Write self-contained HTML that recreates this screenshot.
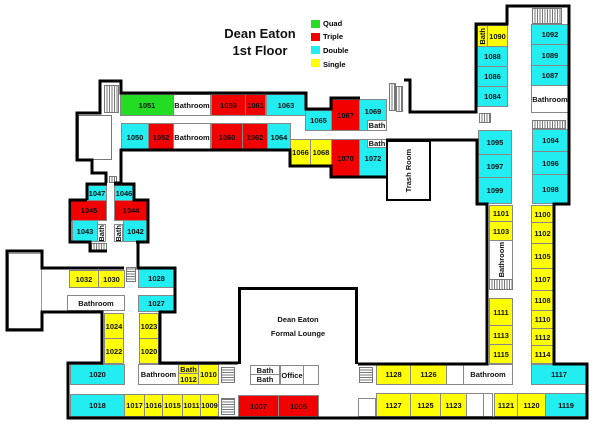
<!DOCTYPE html>
<html><head><meta charset="utf-8"><style>
body{margin:0;width:600px;height:429px;background:#fff;position:relative;overflow:hidden;font-family:"Liberation Sans",sans-serif;}
.r{position:absolute;box-sizing:border-box;border:1px solid #888;font-size:7.5px;font-weight:bold;color:#111;display:flex;align-items:center;justify-content:center;white-space:nowrap;}
.c{background:#22eef2}.rd{background:#f20000}.y{background:#ffff00}.g{background:#22dd22}.w{background:#fff}
.v{writing-mode:vertical-rl;transform:rotate(180deg);}
.st{position:absolute;box-sizing:border-box;border:1px solid #777;background:repeating-linear-gradient(90deg,#fff 0 1.5px,#777 1.5px 2.5px);}
.sth{position:absolute;box-sizing:border-box;border:1px solid #777;background:repeating-linear-gradient(0deg,#fff 0 1.5px,#777 1.5px 2.5px);}
.t{position:absolute;font-weight:bold;font-size:13px;color:#111;text-align:center;}
.lg{position:absolute;width:9px;height:8px;}
.lt{position:absolute;font-size:7.5px;font-weight:bold;}
</style></head><body>
<div class="t" style="left:205px;top:25px;width:110px;line-height:17px">Dean Eaton<br>1st Floor</div>
<div class="lg g" style="left:311px;top:20px"></div><div class="lt" style="left:323px;top:19px">Quad</div>
<div class="lg rd" style="left:311px;top:33px"></div><div class="lt" style="left:323px;top:32px">Triple</div>
<div class="lg c" style="left:311px;top:46px"></div><div class="lt" style="left:323px;top:46px">Double</div>
<div class="lg y" style="left:311px;top:59px"></div><div class="lt" style="left:323px;top:60px">Single</div>

<!-- top wing -->
<div class="st" style="left:104px;top:85px;width:15px;height:28px"></div>
<div class="r g" style="left:120px;top:94px;width:54px;height:22px">1051</div>
<div class="r w" style="left:173px;top:94px;width:38px;height:22px">Bathroom</div>
<div class="r rd" style="left:211px;top:94px;width:35px;height:22px">1059</div>
<div class="r rd" style="left:245px;top:94px;width:21px;height:22px">1061</div>
<div class="r c" style="left:266px;top:94px;width:40px;height:22px">1063</div>
<div class="r c" style="left:305px;top:110px;width:27px;height:21px">1065</div>
<div class="r rd" style="left:331px;top:99px;width:29px;height:32px">1067</div>
<div class="r c" style="left:359px;top:99px;width:28px;height:32px;align-items:flex-start;padding-top:7px">1069</div>
<div class="r w" style="left:367px;top:120px;width:20px;height:11px">Bath</div>
<div class="r c" style="left:121px;top:123px;width:28px;height:28px">1050</div>
<div class="r rd" style="left:148px;top:123px;width:26px;height:28px">1052</div>
<div class="r w" style="left:173px;top:123px;width:38px;height:28px">Bathroom</div>
<div class="r rd" style="left:211px;top:123px;width:32px;height:28px">1060</div>
<div class="r rd" style="left:242px;top:123px;width:26px;height:28px">1062</div>
<div class="r c" style="left:267px;top:123px;width:24px;height:28px">1064</div>
<div class="r y" style="left:290px;top:139px;width:21px;height:27px">1066</div>
<div class="r y" style="left:310px;top:139px;width:22px;height:27px">1068</div>
<div class="r rd" style="left:331px;top:139px;width:29px;height:38px">1070</div>
<div class="r c" style="left:359px;top:139px;width:28px;height:38px">1072</div>
<div class="r w" style="left:367px;top:139px;width:20px;height:9px">Bath</div>
<div style="position:absolute;left:78px;top:115px;width:34px;height:45px;border:1px solid #777;box-sizing:border-box"></div>
<div class="st" style="left:389px;top:83px;width:7px;height:28px"></div><div class="st" style="left:396px;top:86px;width:7px;height:26px"></div>
<div class="r w" style="left:386px;top:140px;width:45px;height:61px;border:2px solid #000"><span class="v">Trash Room</span></div>

<!-- left block 1042-1047 -->
<div class="r c" style="left:87px;top:185px;width:20px;height:16px">1047</div>
<div class="r c" style="left:114px;top:185px;width:20px;height:16px">1046</div>
<div class="r rd" style="left:71px;top:200px;width:36px;height:21px">1045</div>
<div class="r rd" style="left:114px;top:200px;width:34px;height:21px">1044</div>
<div class="r c" style="left:72px;top:220px;width:26px;height:22px">1043</div>
<div class="r w" style="left:97px;top:224px;width:9px;height:18px"><span class="v">Bath</span></div>
<div class="r w" style="left:114px;top:224px;width:9px;height:18px"><span class="v">Bath</span></div>
<div class="r c" style="left:123px;top:220px;width:25px;height:22px">1042</div>
<div class="st" style="left:91px;top:243px;width:16px;height:8px"></div>
<div class="st" style="left:109px;top:176px;width:8px;height:7px"></div>

<!-- left area -->
<div class="r y" style="left:69px;top:270px;width:30px;height:18px">1032</div>
<div class="r y" style="left:98px;top:270px;width:27px;height:18px">1030</div>
<div class="r c" style="left:138px;top:268px;width:37px;height:20px">1028</div>
<div class="sth" style="left:126px;top:267px;width:10px;height:15px"></div>
<div class="r w" style="left:67px;top:295px;width:58px;height:16px">Bathroom</div>
<div class="r c" style="left:138px;top:295px;width:37px;height:17px">1027</div>
<div class="r y" style="left:104px;top:313px;width:20px;height:26px">1024</div>
<div class="r y" style="left:104px;top:338px;width:20px;height:26px">1022</div>
<div class="r y" style="left:139px;top:313px;width:20px;height:26px">1023</div>
<div class="r y" style="left:139px;top:338px;width:20px;height:26px">1020</div>
<div style="position:absolute;left:8px;top:253px;width:34px;height:76px;border:1px solid #999;box-sizing:border-box"></div>

<!-- lounge -->
<div class="r w" style="left:238px;top:287px;width:120px;height:77px;border:3px solid #000;border-bottom:none;line-height:14px;text-align:center">Dean Eaton<br>Formal Lounge</div>

<!-- bottom row -->
<div class="r c" style="left:70px;top:364px;width:55px;height:21px">1020</div>
<div class="r w" style="left:138px;top:364px;width:41px;height:21px">Bathroom</div>
<div class="r y" style="left:178px;top:364px;width:21px;height:10px">Bath</div>
<div class="r y" style="left:178px;top:373px;width:21px;height:12px">1012</div>
<div class="r y" style="left:198px;top:364px;width:21px;height:21px">1010</div>
<div class="sth" style="left:221px;top:367px;width:14px;height:16px"></div>
<div class="r w" style="left:250px;top:365px;width:30px;height:10px">Bath</div>
<div class="r w" style="left:250px;top:374px;width:30px;height:11px">Bath</div>
<div class="r w" style="left:280px;top:365px;width:24px;height:20px">Office</div>
<div class="r w" style="left:303px;top:365px;width:16px;height:20px"></div>
<div class="sth" style="left:359px;top:367px;width:14px;height:16px"></div>
<div class="r y" style="left:376px;top:364px;width:35px;height:21px">1128</div>
<div class="r y" style="left:410px;top:364px;width:37px;height:21px">1126</div>
<div class="r w" style="left:446px;top:364px;width:18px;height:21px"></div>
<div class="r w" style="left:463px;top:364px;width:50px;height:21px">Bathroom</div>
<div class="r c" style="left:531px;top:364px;width:56px;height:21px">1117</div>

<div class="r c" style="left:70px;top:394px;width:55px;height:23px">1018</div>
<div class="r y" style="left:124px;top:394px;width:21px;height:23px">1017</div>
<div class="r y" style="left:144px;top:394px;width:19px;height:23px">1016</div>
<div class="r y" style="left:162px;top:394px;width:21px;height:23px">1015</div>
<div class="r y" style="left:182px;top:394px;width:19px;height:23px">1011</div>
<div class="r y" style="left:200px;top:394px;width:19px;height:23px">1009</div>
<div class="sth" style="left:221px;top:398px;width:14px;height:17px"></div>
<div class="r rd" style="left:238px;top:395px;width:41px;height:22px">1007</div>
<div class="r rd" style="left:278px;top:395px;width:41px;height:22px">1005</div>
<div class="r w" style="left:358px;top:398px;width:18px;height:19px"></div>
<div class="r y" style="left:376px;top:393px;width:35px;height:24px">1127</div>
<div class="r y" style="left:410px;top:393px;width:31px;height:24px">1125</div>
<div class="r y" style="left:440px;top:393px;width:27px;height:24px">1123</div>
<div class="r w" style="left:466px;top:393px;width:18px;height:24px"></div>
<div class="r w" style="left:483px;top:393px;width:10px;height:24px"></div>
<div class="r y" style="left:494px;top:393px;width:24px;height:24px">1121</div>
<div class="r y" style="left:517px;top:393px;width:29px;height:24px">1120</div>
<div class="r c" style="left:545px;top:393px;width:42px;height:24px">1119</div>

<!-- right wing -->
<div class="r y" style="left:477px;top:25px;width:11px;height:22px"><span class="v">Bath</span></div>
<div class="r y" style="left:487px;top:25px;width:21px;height:22px">1090</div>
<div class="r c" style="left:477px;top:46px;width:31px;height:21px">1088</div>
<div class="r c" style="left:477px;top:66px;width:31px;height:21px">1086</div>
<div class="r c" style="left:477px;top:86px;width:31px;height:21px">1084</div>
<div class="st" style="left:532px;top:8px;width:30px;height:16px"></div>
<div class="r c" style="left:531px;top:24px;width:38px;height:21px">1092</div>
<div class="r c" style="left:531px;top:44px;width:38px;height:22px">1089</div>
<div class="r c" style="left:531px;top:65px;width:38px;height:21px">1087</div>
<div class="r w" style="left:531px;top:85px;width:38px;height:28px">Bathroom</div>
<div class="st" style="left:532px;top:120px;width:34px;height:9px"></div>
<div class="r c" style="left:532px;top:129px;width:37px;height:23px">1094</div>
<div class="r c" style="left:532px;top:151px;width:37px;height:24px">1096</div>
<div class="r c" style="left:532px;top:174px;width:37px;height:30px">1098</div>
<div class="st" style="left:479px;top:113px;width:12px;height:10px"></div>
<div class="r c" style="left:478px;top:130px;width:34px;height:25px">1095</div>
<div class="r c" style="left:478px;top:154px;width:34px;height:24px">1097</div>
<div class="r c" style="left:478px;top:177px;width:34px;height:27px">1099</div>

<div class="r y" style="left:489px;top:205px;width:24px;height:17px">1101</div>
<div class="r y" style="left:489px;top:221px;width:24px;height:20px">1103</div>
<div class="r w" style="left:489px;top:240px;width:24px;height:40px"><span class="v">Bathroom</span></div>
<div class="st" style="left:489px;top:279px;width:24px;height:11px"></div>
<div class="r y" style="left:489px;top:298px;width:24px;height:28px">1111</div>
<div class="r y" style="left:489px;top:325px;width:24px;height:20px">1113</div>
<div class="r y" style="left:489px;top:344px;width:24px;height:20px">1115</div>
<div class="r y" style="left:531px;top:205px;width:23px;height:18px">1100</div>
<div class="r y" style="left:531px;top:222px;width:23px;height:22px">1102</div>
<div class="r y" style="left:531px;top:243px;width:23px;height:26px">1105</div>
<div class="r y" style="left:531px;top:268px;width:23px;height:23px">1107</div>
<div class="r y" style="left:531px;top:290px;width:23px;height:21px">1108</div>
<div class="r y" style="left:531px;top:310px;width:23px;height:19px">1110</div>
<div class="r y" style="left:531px;top:328px;width:23px;height:18px">1112</div>
<div class="r y" style="left:531px;top:345px;width:23px;height:19px">1114</div>

<svg width="600" height="429" style="position:absolute;left:0;top:0" fill="none" stroke="#000" stroke-width="3">
<polyline points="106,183 106,173 92,173 92,160 77,160 77,113 100,113 100,81 121,81 121,93 306,93 306,109 331,109 331,98 360,98"/>
<polyline points="114,183 121,183 121,150 290,150 290,166 331,166 331,177 387,177"/>
<polyline points="386,140 477,140 477,204 487,204 487,364 358,364"/>
<polyline points="404,80 410,80 410,112 476,112 476,24 507,24 507,6 569,6 569,204 554,204 554,364 587,364 587,418 68,418 68,363 102,363 102,312 42,312 42,330 7,330 7,251 42,251 42,268 124,268"/>
<polyline points="87,200 87,184 107,184"/>
<polyline points="114,184 134,184 134,200 148,200 148,242 136,242"/>
<polyline points="87,200 70,200 70,242 90,242 90,251 107,251"/>
<polyline points="138,243 138,268 175,268 175,312 160,312 160,363 238,363"/>
</svg>
</body></html>
